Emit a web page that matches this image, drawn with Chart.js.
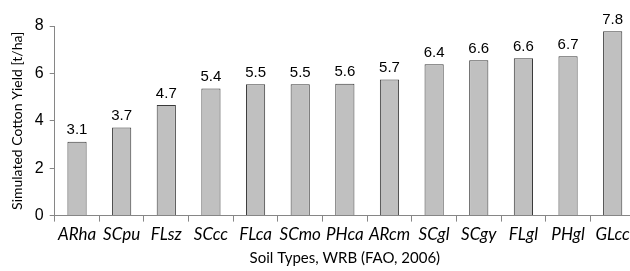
<!DOCTYPE html>
<html>
<head>
<meta charset="utf-8">
<script src="https://cdn.jsdelivr.net/npm/chart.js@4"></script>
<style>
  html, body { margin: 0; padding: 0; background: #fff; overflow: hidden; }
  #wrap { width: 640px; height: 271px; }
</style>
</head>
<body>
<div id="wrap"><canvas id="chart"></canvas></div>
<script>
const soilTypes = ['ARha', 'SCpu', 'FLsz', 'SCcc', 'FLca', 'SCmo', 'PHca', 'ARcm', 'SCgl', 'SCgy', 'FLgl', 'PHgl', 'GLcc'];
const yieldValues = [3.12, 3.72, 4.67, 5.36, 5.54, 5.54, 5.56, 5.74, 6.39, 6.56, 6.64, 6.72, 7.78];
const yieldLabels = ['3.1', '3.7', '4.7', '5.4', '5.5', '5.5', '5.6', '5.7', '6.4', '6.6', '6.6', '6.7', '7.8'];
const yTicks = [0, 2, 4, 6, 8];

// draws the number above each bar
const valueLabels = {
  id: 'valueLabels',
  afterDatasetsDraw(chart) {
    const ctx = chart.ctx;
    const meta = chart.getDatasetMeta(0);
    ctx.save();
    ctx.font = '15px "Liberation Sans", Arial, sans-serif';
    ctx.fillStyle = '#000';
    ctx.textAlign = 'center';
    ctx.textBaseline = 'bottom';
    meta.data.forEach((bar, i) => {
      ctx.fillText(yieldLabels[i], bar.x, bar.y - 4);
    });
    ctx.restore();
  }
};

const config = {
  type: 'bar',
  data: {
    labels: soilTypes,
    datasets: [{
      data: yieldValues,
      backgroundColor: '#c0c0c0',
      borderColor: '#3a3a3a',
      borderWidth: 1,
      barPercentage: 0.43,
      categoryPercentage: 1
    }]
  },
  options: {
    responsive: true,
    maintainAspectRatio: false,
    animation: false,
    layout: { padding: { top: 26, right: 5, left: 9, bottom: 4 } },
    plugins: {
      legend: { display: false },
      tooltip: { enabled: false }
    },
    scales: {
      x: {
        grid: {
          display: true,
          drawOnChartArea: false,
          drawTicks: true,
          tickLength: 6,
          color: '#868686',
          offset: true
        },
        border: { color: '#868686' },
        ticks: {
          color: '#000',
          padding: 3,
          maxRotation: 0,
          autoSkip: false,
          font: { family: 'Lato, "Open Sans", sans-serif', size: 17, style: 'italic' }
        },
        title: {
          display: true,
          text: 'Soil Types, WRB (FAO, 2006)',
          color: '#000',
          padding: { top: 1, bottom: 0 },
          font: { family: 'Lato, "Open Sans", sans-serif', size: 15 }
        }
      },
      y: {
        min: 0,
        max: 8,
        afterBuildTicks: (axis) => { axis.ticks = yTicks.map(v => ({ value: v })); },
        grid: {
          display: true,
          drawOnChartArea: false,
          drawTicks: true,
          tickLength: 5,
          color: '#868686'
        },
        border: { color: '#868686' },
        ticks: {
          color: '#000',
          padding: 6,
          font: { family: '"Liberation Sans", Arial, sans-serif', size: 16 }
        },
        title: {
          display: true,
          text: 'Simulated Cotton Yield [t/ha]',
          color: '#000',
          padding: { top: 0, bottom: 3 },
          font: { family: 'Lato, "Open Sans", sans-serif', size: 14 }
        }
      }
    }
  },
  plugins: [valueLabels]
};

new Chart(document.getElementById('chart'), config);
</script>
</body>
</html>
